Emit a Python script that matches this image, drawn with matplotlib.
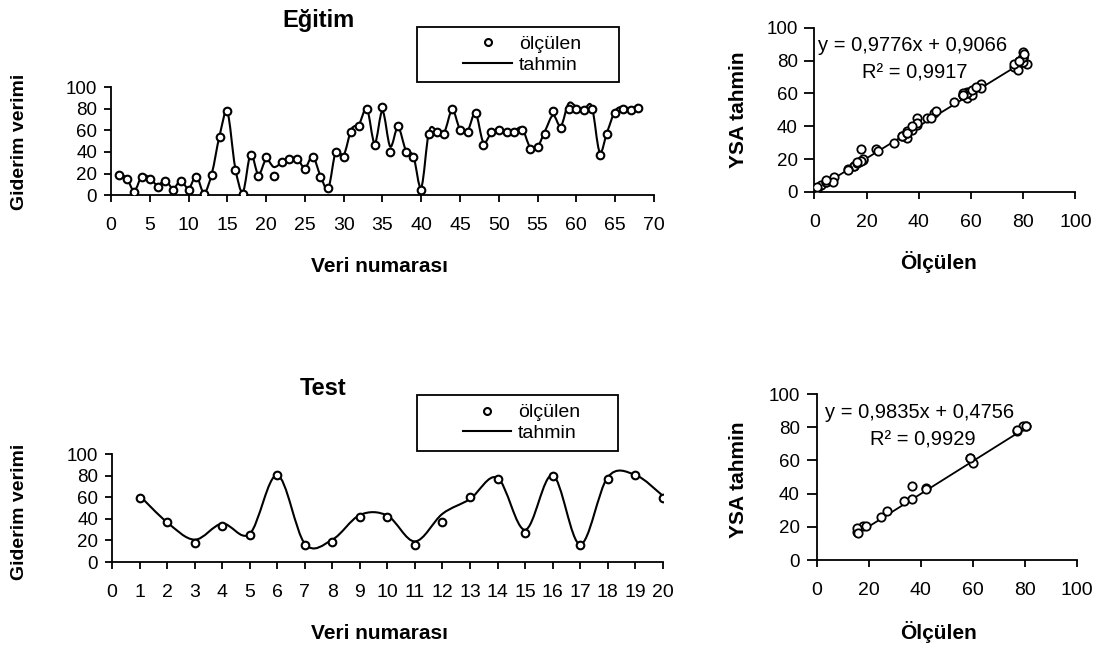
import matplotlib
matplotlib.use('Agg')
import matplotlib.pyplot as plt
from matplotlib.path import Path
from matplotlib.patches import PathPatch, Rectangle
from matplotlib.lines import Line2D

plt.rcParams['font.family'] = ['Liberation Sans', 'DejaVu Sans']

# ---- data ----
# training set (Eğitim): measured and predicted removal efficiency
train_no = list(range(1, 69))
train_meas = [18.5, 15, 2.5, 17, 15, 7.5, 13, 4.5, 13, 4.5,
              16.5, 1, 18.5, 53.5, 78, 23.5, 1, 37.5, 18, 35.5,
              18, 30.5, 33.5, 33.5, 24.5, 35.5, 16.5, 7, 39.5, 35.5,
              58.5, 64, 80, 46, 81.5, 39.5, 64, 39.5, 35.5, 4.5,
              57, 58.5, 57, 80, 60.3, 58.5, 76.5, 46.5, 58.5, 60.3,
              58.5, 58.5, 60.3, 43, 44.5, 57, 78, 62, 80, 80,
              78.5, 80, 37.5, 57, 76.5, 80, 78.5, 80.5]
train_pred = [19.5, 16, 4, 18, 16, 9, 14, 6, 13.5, 6,
              17.5, 2, 20, 55, 77, 26, 3, 38, 19, 33,
              26, 30, 34, 34, 25, 36, 18, 6, 41, 37,
              61, 66, 80, 48, 78, 45, 63, 42, 36, 7,
              59, 60, 59, 79, 61, 60, 76, 49, 57, 59,
              60, 60, 62, 45, 45, 60, 74, 64, 85, 82,
              80, 82, 40, 59, 78, 82, 80, 84]

# test set
test_no = list(range(1, 21))
test_meas = [59, 36.7, 17.8, 33.6, 24.9, 80.6, 15.5, 19, 41.9, 41.9,
             15.5, 36.7, 60, 77, 27.2, 79.3, 16, 77, 80.6, 59]
test_pred = [61.5, 36.8, 20.7, 35.6, 26.1, 80.5, 17, 20.7, 43.6, 43,
             19.1, 44.7, 58.4, 78, 29.8, 80.5, 16.3, 78.5, 80.8, 61.5]

# regression lines reported on the scatter plots
train_fit = (0.9776, 0.9066, 0.9917)
test_fit = (0.9835, 0.4756, 0.9929)

# labels
ylabel_line = 'Giderim verimi'
xlabel_line = 'Veri numarası'
ylabel_sc = 'YSA tahmin'
xlabel_sc = 'Ölçülen'


def smooth_path(x, y):
    # excel-like smoothed line: cubic bezier segments through the points
    verts = [(x[0], y[0])]
    codes = [Path.MOVETO]
    n = len(x)
    for i in range(n - 1):
        xp, yp = (x[i - 1], y[i - 1]) if i > 0 else (x[i], y[i])
        xn, yn = (x[i + 2], y[i + 2]) if i + 2 < n else (x[i + 1], y[i + 1])
        c1 = (x[i] + (x[i + 1] - xp) / 6, y[i] + (y[i + 1] - yp) / 6)
        c2 = (x[i + 1] - (xn - x[i]) / 6, y[i + 1] - (yn - y[i]) / 6)
        verts += [c1, c2, (x[i + 1], y[i + 1])]
        codes += [Path.CURVE4] * 3
    return Path(verts, codes)


def style_axes(ax, xpad, ylen):
    for s in ['top', 'right']:
        ax.spines[s].set_visible(False)
    for s in ['left', 'bottom']:
        ax.spines[s].set_linewidth(1.3)
    ax.tick_params(axis='x', direction='out', length=5, width=1.3,
                   labelsize=14, pad=xpad)
    ax.tick_params(axis='y', direction='out', length=ylen, width=1.3,
                   labelsize=13.5, pad=5)
    ax.set_ylim(0, 100)
    ax.set_yticks(range(0, 101, 20))


def line_panel(ax, no, meas, pred, xmax, xstep):
    ax.add_patch(PathPatch(smooth_path(no, pred), fill=False,
                           lw=1.5, ec='black', zorder=2))
    ax.plot(no, meas, 'o', ms=5.5, mfc='white', mec='black', mew=1.5,
            zorder=3)
    ax.set_xlim(0, xmax)
    ax.set_xticks(range(0, xmax + 1, xstep))
    style_axes(ax, 11, 5)


def scatter_panel(ax, meas, pred, fit):
    a, b, r2 = fit
    ax.plot(meas, pred, 'o', ms=6, mfc='white', mec='black', mew=1.3,
            zorder=3)
    xs = [min(meas), max(meas)]
    ax.plot(xs, [a * v + b for v in xs], color='black', lw=1.3, zorder=2)
    ax.set_xlim(0, 100)
    ax.set_xticks(range(0, 101, 20))
    style_axes(ax, 11, 7)


fig = plt.figure(figsize=(10.99, 6.46), dpi=100)

ax1 = fig.add_axes([0.101, 0.698, 0.494, 0.167])
ax2 = fig.add_axes([0.102, 0.130, 0.501, 0.167])
ax3 = fig.add_axes([0.741, 0.703, 0.2375, 0.254])
ax4 = fig.add_axes([0.743, 0.133, 0.2366, 0.257])

line_panel(ax1, train_no, train_meas, train_pred, 70, 5)
line_panel(ax2, test_no, test_meas, test_pred, 20, 1)
scatter_panel(ax3, train_meas, train_pred, train_fit)
scatter_panel(ax4, test_meas, test_pred, test_fit)

# titles
fig.text(0.290, 0.969, 'Eğitim', ha='center', va='center',
         fontsize=17, fontweight='bold')
fig.text(0.294, 0.399, 'Test', ha='center', va='center',
         fontsize=17, fontweight='bold')

# axis labels
for yc in [0.780, 0.207]:
    fig.text(0.018, yc, ylabel_line, rotation=90, ha='center', va='center',
             fontsize=14, fontweight='bold')
for yc in [0.588, 0.020]:
    fig.text(0.345, yc, xlabel_line, ha='center', va='center',
             fontsize=15, fontweight='bold')
for yc in [0.830, 0.257]:
    fig.text(0.672, yc, ylabel_sc, rotation=90, ha='center', va='center',
             fontsize=15, fontweight='bold')
for yc in [0.594, 0.022]:
    fig.text(0.854, yc, xlabel_sc, ha='center', va='center',
             fontsize=15, fontweight='bold')

# regression texts
for fit, x0, y0, xr, yr in [(train_fit, 0.744, 0.930, 0.832, 0.887),
                            (test_fit, 0.751, 0.361, 0.840, 0.319)]:
    a, b, r2 = fit
    eq = 'y = {:.4f}x + {:.4f}'.format(a, b).replace('.', ',')
    fig.text(x0, y0, eq, ha='left', va='center', fontsize=14.5)
    fig.text(xr, yr, 'R² = {:.4f}'.format(r2).replace('.', ','),
             ha='center', va='center', fontsize=14.5)

# legends (boxed, above each line chart)
handles = [Line2D([], [], ls='none', marker='o', ms=5, mfc='white',
                  mec='black', mew=1.5),
           Line2D([], [], color='black', lw=1.5)]
for (l, b, w, h) in [(0.379, 0.873, 0.184, 0.085),
                     (0.379, 0.302, 0.183, 0.087)]:
    fig.patches.append(Rectangle((l, b), w, h, transform=fig.transFigure,
                                 fill=False, ec='black', lw=1.3))
    fig.legend(handles, ['ölçülen', 'tahmin'], loc='center',
               bbox_to_anchor=(l + w / 2 + 0.004, b + h / 2),
               frameon=False, fontsize=14, handlelength=2.5,
               handletextpad=0.35, labelspacing=0.15)

fig.savefig('out.png', dpi=100)
